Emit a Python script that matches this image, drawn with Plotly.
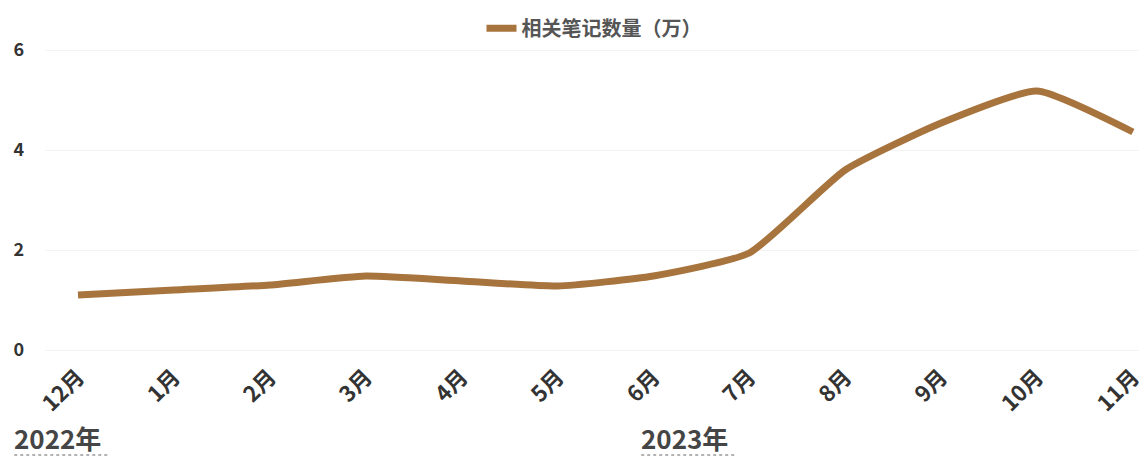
import plotly.graph_objects as go

months = ['12月', '1月', '2月', '3月', '4月', '5月', '6月', '7月', '8月', '9月', '10月', '11月']
notes = [1.1, 1.2, 1.3, 1.48, 1.38, 1.28, 1.48, 1.94, 3.6, 4.54, 5.18, 4.36]
years = ['2022年', '2023年']
year_pos = [-0.03, 0.541]   # paper x, left edge of each year label

FONT = "Noto Sans CJK SC"

fig = go.Figure()
fig.add_trace(go.Scatter(
    x=list(range(len(months))), y=notes, mode='lines', name='<b>相关笔记数量（万）</b>',
    line=dict(color='#a8743e', width=7, shape='spline', smoothing=0.5),
))

for label, px_ in zip(years, year_pos):
    fig.add_annotation(text='<b>' + label + '</b>', x=px_, y=-0.255, xref='paper', yref='paper',
                       xanchor='left', yanchor='middle', showarrow=False,
                       font=dict(size=26, color='#454545', family=FONT))
    fig.add_shape(type='line', xref='paper', yref='paper', x0=px_ + 0.002, x1=px_ + 0.087,
                  y0=-0.308, y1=-0.308, line=dict(color='#999999', width=1.5, dash='dot'))

# page body has an 8px margin, so the figure is sized to fit inside the window
fig.update_layout(
    width=1139, height=451,
    margin=dict(l=37, r=4, t=22, b=104, autoexpand=False),
    plot_bgcolor='white', paper_bgcolor='white',
    font=dict(family=FONT, color='#333333'),
    showlegend=True,
    legend=dict(orientation='h', x=0.5, xanchor='center', y=0.955, yanchor='middle', yref='container',
                font=dict(size=20, color='#555555', family=FONT)),
    xaxis=dict(
        tickmode='array', tickvals=list(range(len(months))),
        ticktext=['<b>' + m + '</b>' for m in months],
        tickangle=-45, range=[-0.344, 11.105], showgrid=False, zeroline=False,
        automargin=False, ticklabeloverflow='allow', ticklabelstandoff=4,
        tickfont=dict(size=22, color='#333333', family=FONT),
    ),
    yaxis=dict(
        range=[-0.1, 6.4], tickvals=[0, 2, 4, 6], ticktext=['<b>0</b>', '<b>2</b>', '<b>4</b>', '<b>6</b>'],
        showgrid=True, gridcolor='#f3f3f3', zeroline=False, ticklabelstandoff=20, automargin=False,
        tickfont=dict(size=18, color='#333333', family=FONT),
    ),
)

fig.write_html("out.html")
